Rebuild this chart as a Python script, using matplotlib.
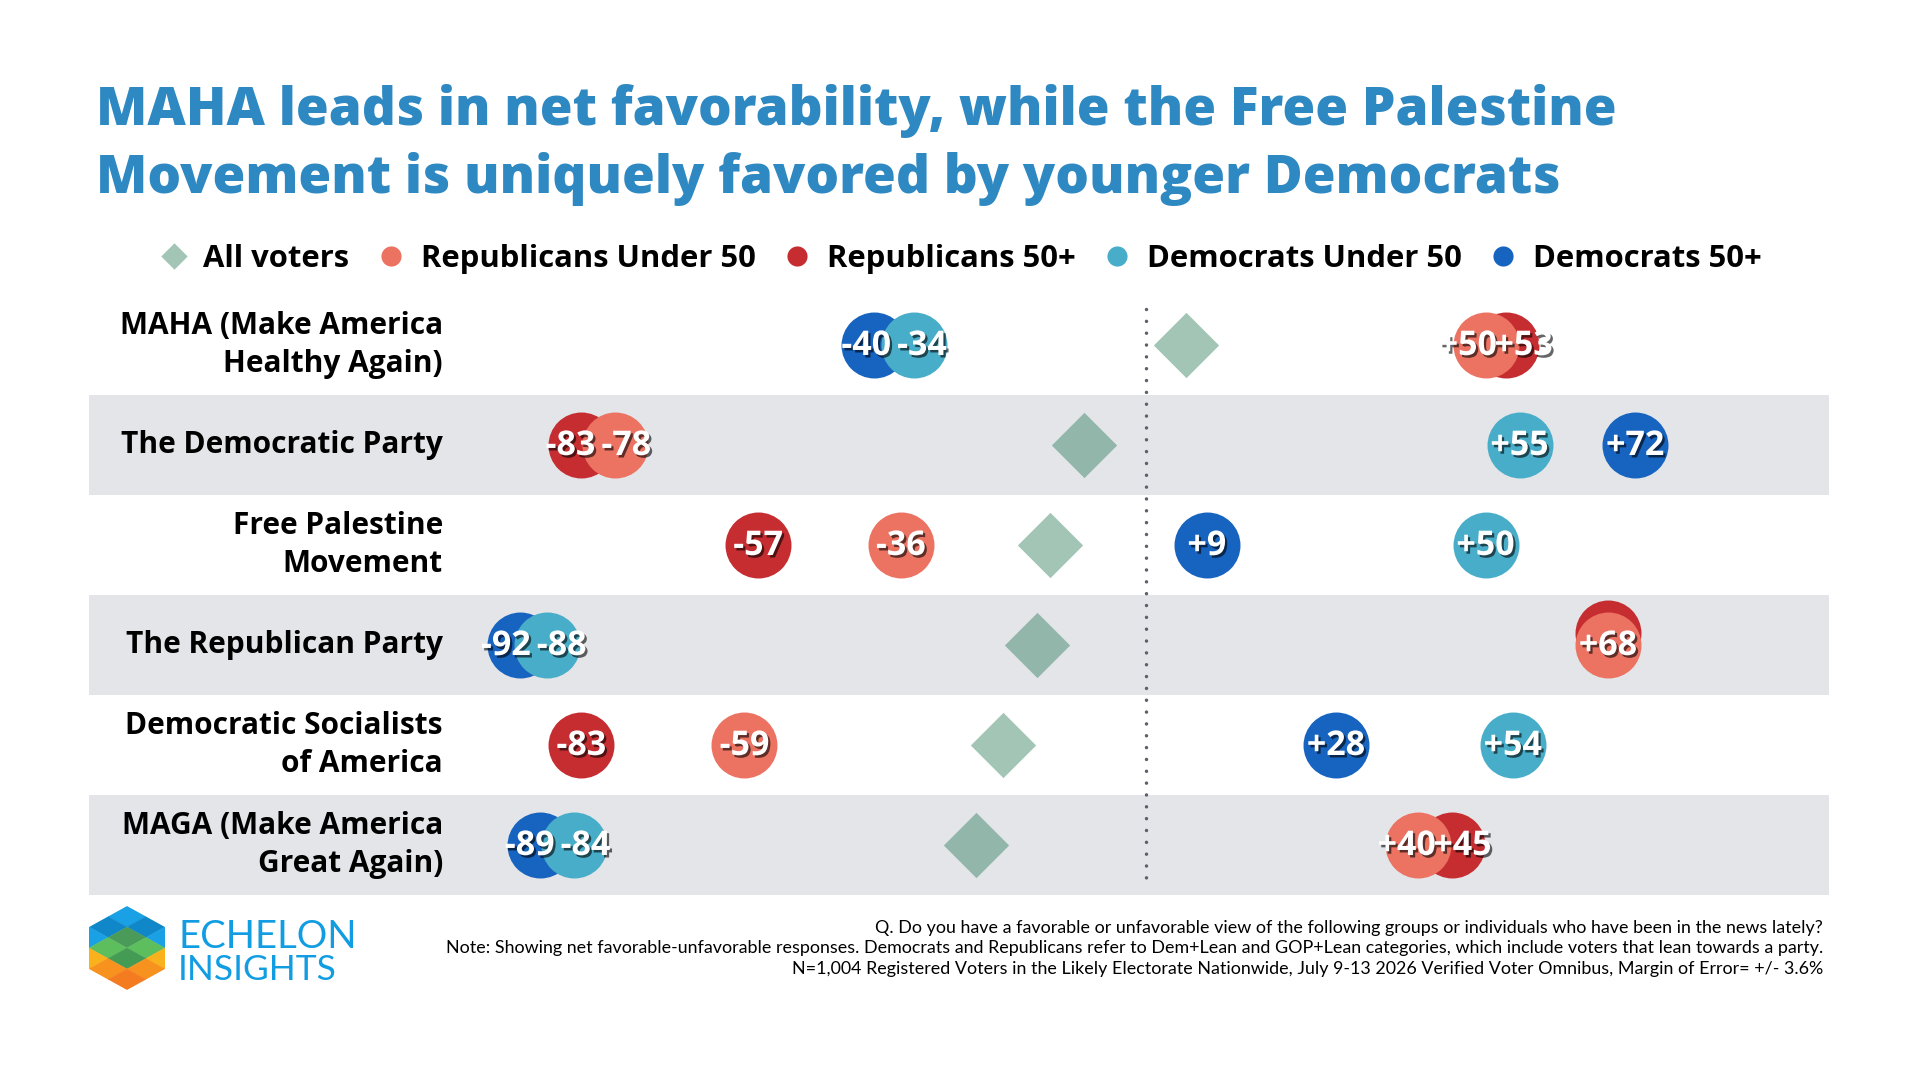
import matplotlib
matplotlib.use('Agg')
import matplotlib.pyplot as plt
import matplotlib.patheffects as pe
from matplotlib.lines import Line2D
from matplotlib.patches import Polygon

# data (net favorable, percentage points)
items = ['MAHA (Make America\nHealthy Again)', 'The Democratic Party', 'Free Palestine\nMovement',
         'The Republican Party', 'Democratic Socialists\nof America', 'MAGA (Make America\nGreat Again)']
all_voters = [6, -9, -14, -16, -21, -25]
rep_under50 = [50, -78, -36, 68, -59, 40]
rep_50plus = [53, -83, -57, 68, -83, 45]
dem_under50 = [-34, 55, 50, -88, 54, -84]
dem_50plus = [-40, 72, 9, -92, 28, -89]

legend_labels = ['All voters', 'Republicans Under 50', 'Republicans 50+', 'Democrats Under 50', 'Democrats 50+']

title_lines = ['MAHA leads in net favorability, while the Free Palestine',
               'Movement is uniquely favored by younger Democrats']
notes = ['Q. Do you have a favorable or unfavorable view of the following groups or individuals who have been in the news lately?',
         'Note: Showing net favorable-unfavorable responses. Democrats and Republicans refer to Dem+Lean and GOP+Lean categories, which include voters that lean towards a party.',
         'N=1,004 Registered Voters in the Likely Electorate Nationwide, July 9-13 2026 Verified Voter Omnibus, Margin of Error= +/- 3.6%']

c_all = '#1E744F'
c_rep_u = '#EC7262'
c_rep_o = '#C62D31'
c_dem_u = '#48ADC9'
c_dem_o = '#1763C0'
band = '#E4E5E9'
title_blue = '#2E88C2'

FONT = 'Open Sans'
diamond = [(0, 1), (1, 0), (0, -1), (-1, 0), (0, 1)]
label_gap = 8.2  # min distance between two value labels, in data units

fig = plt.figure(figsize=(19.2, 10.8), dpi=100)
fig.patch.set_facecolor('white')

ax = fig.add_axes([89 / 1920, 1 - 895 / 1080, 1740 / 1920, 600 / 1080])
ax.set_xlim(-155.4, 100.5)
ax.set_ylim(5.5, -0.5)
ax.axis('off')

rows = list(range(len(items)))
for r in rows:
    if r % 2 == 1:
        ax.axhspan(r - 0.5, r + 0.5, color=band, lw=0, zorder=0)

ax.plot([0, 0], [-0.36, 5.43], color='#5B606B', lw=2.5, ls=(0, (0.01, 3.4)),
        dash_capstyle='round', zorder=1)

ax.scatter(all_voters, rows, marker=diamond, s=47 ** 2, color=c_all, alpha=0.41, lw=0, zorder=2)

series = [(rep_50plus, c_rep_o, rep_under50), (rep_under50, c_rep_u, None),
          (dem_50plus, c_dem_o, dem_under50), (dem_under50, c_dem_u, None)]
shadow = [pe.SimplePatchShadow(offset=(1.6, -1.8), shadow_rgbFace='black', alpha=0.6), pe.Normal()]
z = 3
row_labels = {r: [] for r in rows}
for vals, col, partner in series:
    ys = []
    for r in rows:
        # identical values: nudge the 50+ circle up so both stay visible
        if partner is not None and partner[r] == vals[r]:
            ys.append(r - 0.12)
        else:
            ys.append(r)
            row_labels[r].append(vals[r])
    ax.scatter(vals, ys, s=47.5 ** 2, color=col, lw=0, zorder=z)
    z += 1

for r in rows:
    vals = sorted(row_labels[r])
    pos = list(vals)
    for i in range(len(vals) - 1):
        if vals[i + 1] - vals[i] < label_gap:
            mid = (vals[i] + vals[i + 1]) / 2
            pos[i] = mid - label_gap / 2
            pos[i + 1] = mid + label_gap / 2
    for v, x in zip(vals, pos):
        ax.text(x, r + 0.01, f'{v:+d}', ha='center', va='center', color='white',
                fontsize=24.5, fontweight='bold', family=FONT, zorder=10, path_effects=shadow)

for r, name in zip(rows, items):
    ax.text(0.2034, r, name, transform=ax.get_yaxis_transform(), ha='right', va='center',
            fontsize=21.5, fontweight='bold', family=FONT, color='black', linespacing=1.38, zorder=5)

# title
fig.text(96 / 1920, 1 - 125 / 1080, title_lines[0], ha='left', va='baseline', color=title_blue,
         fontsize=38.2, fontweight='heavy', family=FONT)
fig.text(96 / 1920, 1 - 193 / 1080, title_lines[1], ha='left', va='baseline', color=title_blue,
         fontsize=38.2, fontweight='heavy', family=FONT)

# legend
handles = [Line2D([], [], ls='none', marker=diamond, ms=19, color=c_all, alpha=0.41, mew=0)]
for col in [c_rep_u, c_rep_o, c_dem_u, c_dem_o]:
    handles.append(Line2D([], [], ls='none', marker='o', ms=14.5, color=col, mew=0))
fig.legend(handles, legend_labels, loc='center', bbox_to_anchor=(0.5, 1 - 259 / 1080), ncol=5,
           frameon=False, prop=dict(family=FONT, weight='bold', size=22.3), handlelength=1.0,
           handletextpad=0.45, columnspacing=0.85)

# footnotes
for i, line in enumerate(notes):
    fig.text(1823 / 1920, 1 - (933 + 20.5 * i) / 1080, line, ha='right', va='baseline',
             fontsize=12.9, family='Lato', color='black')

# logo
lax = fig.add_axes([89 / 1920, 1 - 990 / 1080, 76 / 1920, 84 / 1080])
lax.set_xlim(0, 76)
lax.set_ylim(0, 84)
lax.axis('off')
hexagon = Polygon([(38, 84), (76, 63), (76, 21), (38, 0), (0, 21), (0, 63)], closed=True,
                  fc='none', ec='none')
lax.add_patch(hexagon)
tiles = [((38, 73.5), '#1AA0E4'), ((19, 63), '#0F87C9'), ((57, 63), '#0F87C9'),
         ((0, 52.5), '#1AA0E4'), ((38, 52.5), '#4A9A5A'), ((76, 52.5), '#1AA0E4'),
         ((19, 42), '#5DBE5D'), ((57, 42), '#5DBE5D'),
         ((0, 31.5), '#F9B11C'), ((38, 31.5), '#449B53'), ((76, 31.5), '#F9B11C'),
         ((19, 21), '#F7921E'), ((57, 21), '#F7921E'), ((38, 10.5), '#F47B20')]
for (cx, cy), col in tiles:
    p = Polygon([(cx, cy + 10.5), (cx + 19, cy), (cx, cy - 10.5), (cx - 19, cy)], closed=True,
                fc=col, ec=col, lw=0.3)
    lax.add_patch(p)
    p.set_clip_path(hexagon)
fig.text(178 / 1920, 1 - 948 / 1080, 'ECHELON', ha='left', va='baseline', color='#129DE3',
         fontsize=27.5, fontweight='normal', family='Lato')
fig.text(178 / 1920, 1 - 980 / 1080, 'INSIGHTS', ha='left', va='baseline', color='#129DE3',
         fontsize=25.5, fontweight='normal', family='Lato')

fig.savefig('out.png', dpi=100, facecolor='white')
